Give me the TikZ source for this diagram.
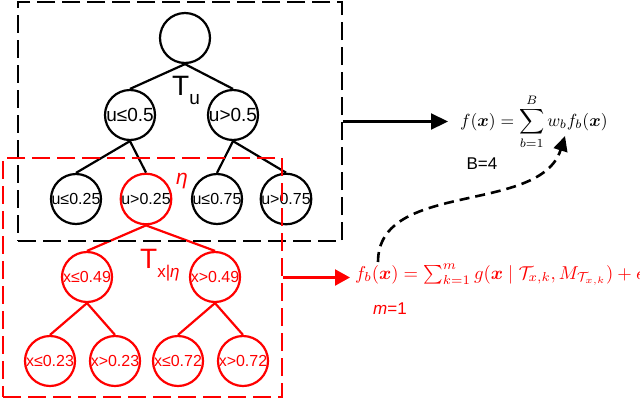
\documentclass[tikz,border=0pt]{standalone}
\usepackage{amsmath}
\usepackage{fontspec}
\setmainfont{Liberation Sans}
\usetikzlibrary{arrows.meta,positioning}
\definecolor{Ink}{HTML}{000000}
\definecolor{Sub}{HTML}{FF0000}

\begin{document}
\begin{tikzpicture}[x=1pt, y=-1pt,
  splitnode/.style={circle, draw=Ink, line width=2.2pt, minimum size=50pt, inner sep=0pt, font=\fontsize{16}{18}\selectfont},
  subnode/.style={splitnode, draw=Sub, text=Sub},
  branch/.style={line width=2.2pt, draw=Ink},
  subbranch/.style={line width=2.2pt, draw=Sub},
  treebox/.style={draw=#1, line width=2.6pt, dash pattern=on 18pt off 7pt, inner sep=0pt},
  formula/.style={inner sep=0pt}]
  \useasboundingbox (0,0) rectangle (640,400);
  % u tree
  \node[splitnode] (root) at (185,38) {};
  \node[splitnode, font=\fontsize{19}{21}\selectfont] (ul) at (130,115) {u≤0.5};
  \node[splitnode, font=\fontsize{19}{21}\selectfont] (ur) at (233,115) {u>0.5};
  \node[splitnode] (ull) at (76,199) {u≤0.25};
  \node[splitnode, draw=Sub] (ulr) at (146,199) {u>0.25};
  \node[splitnode] (url) at (217,199) {u≤0.75};
  \node[splitnode] (urr) at (286,199) {u>0.75};
  \draw[branch] (root.south) -- (ul.north);
  \draw[branch] (root.south) -- (ur.north);
  \draw[branch] (ul.south) -- (ull.north);
  \draw[branch] (ul.south) -- (ulr.north);
  \draw[branch] (ur.south) -- (url.north);
  \draw[branch] (ur.south) -- (urr.north);
  % x tree under eta
  \node[subnode] (xl) at (87,277) {x≤0.49};
  \node[subnode] (xr) at (215,277) {x>0.49};
  \node[subnode] (xll) at (50,361) {x≤0.23};
  \node[subnode] (xlr) at (115,361) {x>0.23};
  \node[subnode] (xrl) at (178,361) {x≤0.72};
  \node[subnode] (xrr) at (243,361) {x>0.72};
  \draw[subbranch] (ulr.south) -- (xl.north);
  \draw[subbranch] (ulr.south) -- (xr.north);
  \draw[subbranch] (xl.south) -- (xll.north);
  \draw[subbranch] (xl.south) -- (xlr.north);
  \draw[subbranch] (xr.south) -- (xrl.north);
  \draw[subbranch] (xr.south) -- (xrr.north);
  % labels
  \node[anchor=base west, inner sep=0pt] (Tu) at (172,95) {\fontsize{28}{28}\selectfont T\raisebox{-9pt}{\fontsize{19}{19}\selectfont u}};
  \node[anchor=base, inner sep=0pt, text=Sub, font=\fontsize{21}{21}\selectfont\itshape] (eta) at (182,184) {η};
  \node[anchor=base west, inner sep=0pt, text=Sub] (Tx) at (140,268) {\fontsize{28}{28}\selectfont T\raisebox{-9pt}{\fontsize{17}{17}\selectfont x|\textit{η}}};
  % boxes
  \node[treebox=Ink, minimum width=324pt, minimum height=239pt] (ubox) at (180,121.5) {};
  \node[treebox=Sub, minimum width=279pt, minimum height=239pt] (xbox) at (142.5,277.5) {};
  % formulas
  \node[formula, anchor=base west] (fsum) at (460,126) {\scalebox{1.75}{$\displaystyle f(\boldsymbol{x})=\sum_{b=1}^{B} w_b f_b(\boldsymbol{x})$}};
  \node[formula, anchor=base west, text=Sub] (fbsum) at (355,279) {\scalebox{1.86}{$f_b(\boldsymbol{x})=\sum_{k=1}^{m} g(\boldsymbol{x}\mid\mathcal{T}_{x,k},M_{\mathcal{T}_{x,k}})+\epsilon$}};
  \node[anchor=center, inner sep=0pt, font=\fontsize{17}{20}\selectfont] (B) at (482,164) {B=4};
  \node[anchor=center, inner sep=0pt, text=Sub, font=\fontsize{17}{20}\selectfont] (m) at (390,309) {\textit{m}=1};
  % connectors
  \draw[-{Triangle[length=17pt,width=16pt]}, line width=2.2pt, Ink, shorten >=12pt] (ubox.east) -- (ubox.east -| fsum.west);
  \draw[-{Triangle[length=15pt,width=16pt]}, line width=2.2pt, Sub, shorten >=5pt] (xbox.east) -- (xbox.east -| fbsum.west);
  \coordinate (lift) at ([xshift=23pt, yshift=17pt]fbsum.base west);
  \coordinate (drop) at ([xshift=105pt, yshift=-10pt]fsum.base west);
  \draw[-{Triangle[length=15pt,width=14pt]}, line width=2.6pt, Ink, dash pattern=on 10pt off 6pt] (lift) .. controls +(0,-82) and +(-25,79) .. (drop);
\end{tikzpicture}
\end{document}
